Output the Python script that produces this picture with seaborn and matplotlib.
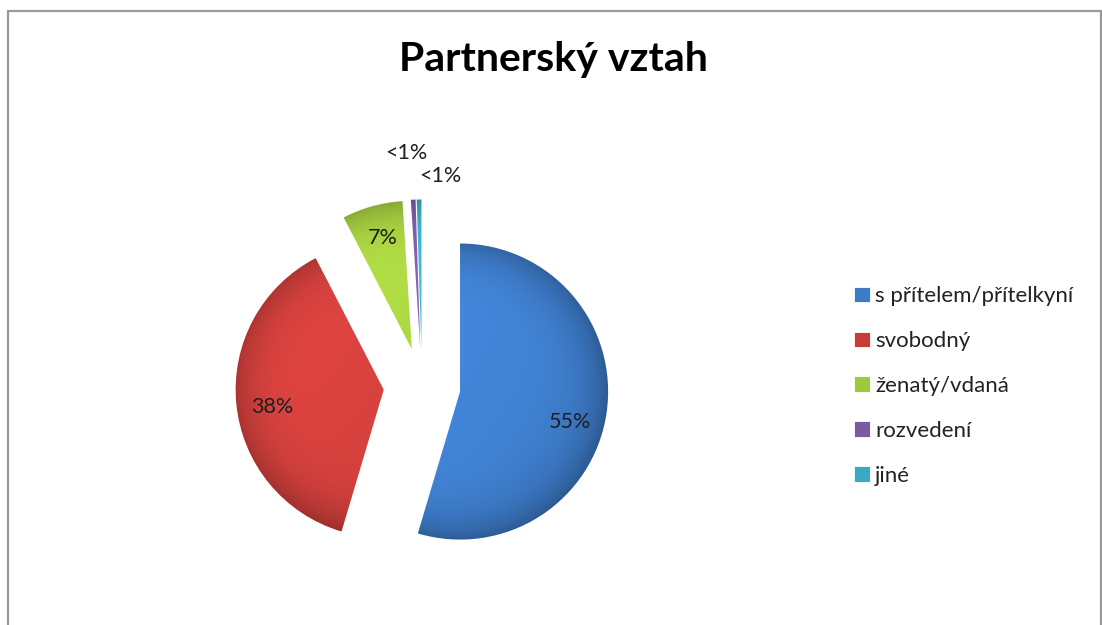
import numpy as np
import seaborn as sns
import matplotlib.pyplot as plt
from matplotlib.patches import Rectangle

categories = ['s přítelem/přítelkyní', 'svobodný', 'ženatý/vdaná', 'rozvedení', 'jiné']
shares = [54.6, 37.8, 6.6, 0.5, 0.5]
pct_labels = ['55%', '38%', '7%', '<1%', '<1%']
colors = ['#3D7BC8', '#C83D3A', '#A0C83E', '#7B5AA0', '#3AA9C6']

sns.set_theme(style='white')
plt.rcParams['font.family'] = ['Lato', 'DejaVu Sans']

W, H = 1102, 625
fig = plt.figure(figsize=(W / 100, H / 100), dpi=100)
fig.patch.set_facecolor('white')

# chart frame like the Excel chart area
fig.patches.append(Rectangle((8 / W, -0.05), (W - 9) / W, (H - 11) / H + 0.05,
                             transform=fig.transFigure, fill=False,
                             edgecolor='#9A9A9A', linewidth=1.6))

# pie axes: radius 1 == 148 px, common centre at (422, 386) px
R = 148
cx, cy = 422, 386
aw, ah = 420, 460
ax = fig.add_axes([(cx - aw / 2) / W, (H - cy - ah / 2) / H, aw / W, ah / H])

explode = [0.26] * len(shares)
wedges, _ = ax.pie(shares, colors=colors, startangle=90, counterclock=False,
                   explode=explode, wedgeprops=dict(linewidth=0.6, edgecolor='white'))
ax.set_xlim(-aw / 2 / R, aw / 2 / R)
ax.set_ylim(-ah / 2 / R, ah / 2 / R)
ax.set_aspect('equal')
ax.axis('off')

# bevel-like shading clipped to each wedge
gx = np.linspace(-aw / 2 / R, aw / 2 / R, 500)
gy = np.linspace(-ah / 2 / R, ah / 2 / R, 550)
X, Y = np.meshgrid(gx, gy)
for w, col in zip(wedges, colors):
    wx, wy = w.center
    rr = np.hypot(X - wx, Y - wy) / w.r
    shade = 1.08 - 0.28 * np.clip(rr, 0, 1) ** 6 - 0.06 * (X - wx) + 0.04 * (Y - wy)
    base = np.array(plt.matplotlib.colors.to_rgb(col))
    img = np.clip(base[None, None, :] * shade[..., None], 0, 1)
    im = ax.imshow(img, extent=(gx[0], gx[-1], gy[0], gy[-1]), origin='lower',
                   zorder=w.get_zorder() + 0.1, interpolation='bilinear')
    im.set_clip_path(w)

# percentage labels (offsets in points mimic Excel's best-fit placement)
label_offsets = [(3, -11), (-4, -5), (0, 6), (-5, 34), (15, 17)]
for w, lab, v, off in zip(wedges, pct_labels, shares, label_offsets):
    ang = np.deg2rad((w.theta1 + w.theta2) / 2)
    wx, wy = w.center
    d = 0.72 if v >= 1 else 1.0
    ax.annotate(lab, xy=(wx + d * np.cos(ang), wy + d * np.sin(ang)),
                xytext=off, textcoords='offset points',
                ha='center', va='center', fontsize=15.5, color='#1E1E1E',
                annotation_clip=False, zorder=10)

fig.text(553 / W, 1 - 60 / H, 'Partnerský vztah', ha='center', va='center',
         fontsize=29.5, fontweight='bold', color='black')

leg = fig.legend(wedges, categories, loc='center left',
                 bbox_to_anchor=(843 / W, 1 - 386 / H), frameon=False,
                 fontsize=16, handlelength=0.7, handleheight=0.7,
                 handletextpad=0.25, labelspacing=1.12, borderpad=0)
for t in leg.get_texts():
    t.set_color('#222222')

fig.savefig('out.png', dpi=100, facecolor='white')
